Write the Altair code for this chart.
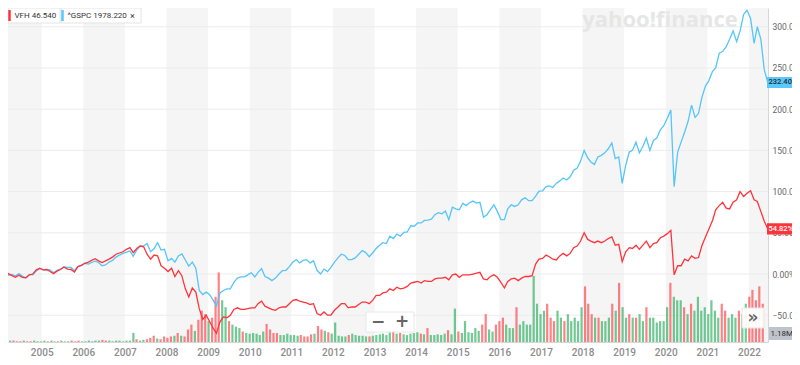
import altair as alt
import pandas as pd

# ^GSPC percent change (mid-month readings)
gspc = [
    0.0, 1.5, -1.5, -0.5, -2.5, 0.5, -2.5, -4.5, -0.5, -1.0, 4.0, 6.5,
    5.0, 5.5, 5.0, 1.5, 4.5, 6.0, 8.5, 8.0, 8.0, 4.0, 9.0, 10.5,
    13.0, 12.0, 14.0, 15.5, 14.0, 10.0, 11.0, 14.5, 16.5, 20.5, 23.0, 25.0,
    26.5, 28.0, 21.5, 29.0, 33.5, 34.0, 37.0, 27.0, 31.0, 38.0, 29.0, 30.0,
    16.0, 19.0, 14.5, 22.0, 24.5, 17.0, 9.5, 14.5, 7.0, -20.0, -25.0, -22.0,
    -25.0, -32.0, -39.0, -23.0, -20.0, -18.0, -18.0, -10.0, -5.0, -3.5, -3.5, -1.0,
    1.5, -3.5, 2.0, 6.5, -3.0, -5.0, -8.0, -5.0, 0.0, 4.0, 4.5, 9.0,
    14.5, 17.5, 13.5, 16.5, 17.5, 13.5, 16.0, 4.5, 0.0, 6.0, 3.0, 8.0,
    14.5, 19.5, 24.0, 22.5, 17.5, 17.5, 19.5, 24.0, 28.5, 26.0, 21.0, 25.5,
    31.0, 35.0, 38.0, 37.0, 46.0, 43.0, 48.5, 46.0, 50.5, 51.0, 58.5, 58.0,
    62.0, 62.0, 65.0, 65.5, 66.5, 72.0, 74.5, 73.0, 76.5, 66.0, 81.0, 79.0,
    78.0, 86.0, 83.0, 86.5, 88.5, 86.0, 87.0, 69.0, 72.0, 78.0, 84.0, 76.0,
    66.0, 66.0, 79.0, 84.0, 82.0, 84.0, 90.0, 92.5, 89.0, 89.0, 94.5, 100.5,
    101.0, 106.0, 107.0, 105.0, 110.0, 113.0, 116.5, 114.0, 118.0, 126.0, 128.5, 137.0,
    150.0, 141.0, 136.0, 133.0, 142.0, 144.0, 147.0, 152.0, 159.0, 140.0, 142.0, 110.0,
    132.0, 148.0, 150.0, 160.0, 147.0, 155.0, 165.0, 150.0, 162.0, 165.0, 175.0, 180.0,
    189.0, 199.0, 106.0, 148.0, 160.0, 172.0, 185.0, 205.0, 190.0, 195.0, 215.0, 228.0,
    235.0, 246.0, 250.0, 268.0, 270.0, 276.0, 285.0, 295.0, 282.0, 295.0, 315.0, 320.0,
    310.0, 280.0, 300.0, 285.0, 248.0, 232.4,
]

# VFH percent change (mid-month readings)
vfh = [
    0.0, 2.0, 0.5, -2.0, -4.0, -1.5, -4.0, -4.5, -1.0, 0.0, 5.0, 7.0,
    5.0, 5.5, 3.0, 0.5, 3.5, 5.5, 8.5, 6.0, 5.5, 2.5, 9.0, 10.5,
    13.0, 14.5, 16.5, 18.5, 16.0, 14.0, 16.0, 18.0, 20.5, 24.0, 25.5, 27.0,
    30.0, 32.0, 26.0, 31.0, 34.0, 33.0, 24.0, 18.0, 23.0, 22.0, 10.0, 7.0,
    3.0, 7.0, -3.0, 4.0, -2.0, -18.0, -28.0, -17.0, -22.0, -42.0, -55.0, -50.0,
    -58.0, -66.0, -72.0, -58.0, -52.0, -53.0, -50.0, -43.0, -41.0, -43.0, -43.0, -42.0,
    -41.0, -41.0, -36.0, -33.0, -39.0, -41.0, -43.0, -44.0, -41.0, -40.0, -40.0, -36.0,
    -32.0, -31.0, -33.0, -34.0, -35.0, -37.0, -36.0, -48.0, -50.0, -46.0, -50.0, -50.0,
    -44.0, -40.0, -36.0, -36.0, -41.0, -40.0, -40.0, -37.0, -34.0, -34.0, -36.0, -32.0,
    -26.0, -26.0, -23.0, -22.0, -18.0, -20.0, -16.0, -18.0, -17.0, -15.0, -11.0, -10.0,
    -9.0, -11.0, -8.0, -9.0, -9.0, -6.0, -5.0, -5.0, -4.0, -7.0, -1.0, 0.0,
    -4.0, -1.0, -1.0, -1.0, 0.0, 1.0, 2.0, -6.0, -7.0, -3.0, -1.0, -4.0,
    -10.0, -17.0, -9.0, -6.0, -5.0, -8.0, -5.0, -3.0, -3.0, -2.0, 12.0, 18.0,
    19.0, 23.0, 21.0, 18.0, 17.0, 22.0, 25.0, 22.0, 25.0, 32.0, 34.0, 40.0,
    50.0, 42.0, 40.0, 38.0, 40.0, 38.0, 40.0, 43.0, 45.0, 35.0, 36.0, 15.0,
    27.0, 32.0, 31.0, 35.0, 30.0, 35.0, 40.0, 32.0, 37.0, 38.0, 44.0, 46.0,
    49.0, 53.0, -1.0, 10.0, 10.0, 18.0, 16.0, 22.0, 19.0, 20.0, 35.0, 45.0,
    55.0, 65.0, 78.0, 83.0, 87.0, 80.0, 79.0, 87.0, 90.0, 100.0, 94.0, 98.0,
    101.0, 90.0, 88.0, 76.0, 64.0, 54.82,
]

# VFH volume (millions)
volume = [
    0.4, 0.2, 0.2, 0.1, 0.1, 0.2, 0.1, 0.1, 0.2, 0.1, 0.1, 0.2,
    0.1, 0.2, 0.1, 0.1, 0.2, 0.1, 0.1, 0.2, 0.1, 0.2, 0.1, 0.1,
    0.2, 0.1, 0.2, 0.2, 0.3, 0.2, 0.2, 0.1, 0.2, 0.2, 0.1, 0.2,
    0.2, 1.3, 0.4, 0.2, 0.3, 0.4, 0.6, 0.9, 0.5, 0.4, 0.8, 0.6,
    0.8, 0.9, 1.3, 0.9, 0.8, 1.8, 2.5, 1.6, 3.2, 4.5, 4.0, 3.0,
    3.5, 6.5, 10.0, 6.0, 5.0, 3.0, 2.5, 2.2, 2.0, 1.5, 1.3, 1.2,
    1.3, 1.2, 1.0, 1.5, 2.6, 1.8, 1.3, 1.3, 1.0, 1.0, 1.2, 1.0,
    1.0, 0.9, 1.0, 0.8, 0.8, 1.1, 1.2, 2.3, 1.8, 1.6, 1.4, 1.2,
    2.8, 0.9, 0.8, 0.8, 1.0, 1.2, 1.0, 0.9, 0.9, 0.8, 0.8, 0.9,
    1.0, 1.1, 1.2, 1.0, 1.4, 1.6, 1.2, 1.3, 1.1, 1.0, 1.2, 1.3,
    1.4, 1.2, 1.1, 2.0, 1.0, 1.0, 1.1, 1.0, 1.2, 1.7, 1.1, 4.8,
    1.5, 1.3, 3.0, 1.4, 1.3, 2.0, 1.6, 2.5, 4.0, 1.8, 1.5, 2.5,
    3.0, 3.5, 2.5, 2.0, 2.0, 5.0, 2.5, 3.0, 2.5, 2.5, 9.5, 5.5,
    4.0, 4.5, 5.5, 3.5, 3.0, 4.5, 3.5, 3.0, 4.0, 3.0, 3.5, 3.0,
    5.0, 8.0, 5.5, 4.0, 3.5, 3.5, 3.0, 3.0, 3.5, 5.5, 4.5, 8.5,
    5.0, 3.5, 4.0, 3.5, 3.5, 4.0, 3.0, 5.0, 3.5, 3.5, 2.8, 3.0,
    3.0, 5.0, 8.5, 6.5, 6.0, 6.0, 5.0, 4.0, 5.5, 4.5, 6.5, 4.5,
    5.0, 4.0, 6.0, 4.5, 3.5, 5.5, 4.5, 3.5, 4.0, 3.5, 4.5, 4.0,
    5.5, 6.5, 7.5, 6.0, 8.0, 5.5,
]

y_ticks = [-50, 0, 50, 100, 150, 200, 250, 300]
year_ticks = list(range(2005, 2023))
band_years = list(range(2004, 2023, 2))

dates = pd.date_range("2004-01-01", periods=len(gspc), freq="MS") + pd.Timedelta(days=14)
direction = ["up"] + ["up" if vfh[i] >= vfh[i - 1] else "down" for i in range(1, len(vfh))]
df = pd.DataFrame({"date": dates, "gspc": gspc, "vfh": vfh, "vol": volume, "dir": direction})

bands = pd.DataFrame({
    "start": [pd.Timestamp(f"{y}-01-01") for y in band_years],
    "end": [pd.Timestamp(f"{y + 1}-01-01") for y in band_years],
})
grid = pd.DataFrame({"v": y_ticks})

FONT = "Roboto"
xscale = alt.Scale(domain=[alt.DateTime(year=2004, month=3, date=11),
                           alt.DateTime(year=2022, month=6, date=17)])
xaxis = alt.Axis(values=[alt.DateTime(year=y, month=1, date=1) for y in year_ticks],
                 format="%Y", grid=False, ticks=False, domainColor="#d6d6d6",
                 labelColor="#8c8c8c", labelFontSize=10, labelPadding=5, labelFont=FONT,
                 labelFontWeight=500, labelOverlap=False, labelFlush=False, title=None,
                 orient="bottom")
yscale = alt.Scale(domain=[-82.5, 322.8], nice=False, zero=False)
yaxis = alt.Axis(orient="right", values=y_ticks, labelExpr="format(datum.value, '.2f') + '%'",
                 grid=False, ticks=False, domainColor="#d6d6d6", labelColor="#666666",
                 labelFontSize=8.5, labelPadding=4, labelFont=FONT, title=None)
volscale = alt.Scale(domain=[0, 48], nice=False)
pxx = alt.Scale(domain=[0, 760], range=[0, 760], nice=False, zero=False)
pxy = alt.Scale(domain=[0, 334], range=[0, 334], nice=False, zero=False)


def X(field="date:T", with_axis=False):
    if with_axis:
        return alt.X(field, scale=xscale, axis=xaxis)
    return alt.X(field, scale=xscale, axis=None)


band_layer = alt.Chart(bands).mark_rect(color="#f5f5f5", clip=True).encode(
    x=X("start:T"), x2="end:T")

grid_layer = alt.Chart(grid).mark_rule(color="#ececec", strokeWidth=1).encode(
    y=alt.Y("v:Q", scale=yscale, axis=None))

watermark = alt.Chart(pd.DataFrame({"t": ["yahoo!finance"]})).mark_text(
    font="Open Sans", fontWeight="bold", fontSize=22, color="#e6e6e6", align="center",
    baseline="alphabetic").encode(text="t:N", x=alt.value(652), y=alt.value(19))

vol_layer = alt.Chart(df).mark_bar(width=2.2, opacity=0.62, clip=True).encode(
    x=X(),
    y=alt.Y("vol:Q", scale=volscale, axis=None),
    color=alt.Color("dir:N", scale=alt.Scale(domain=["up", "down"], range=["#1aa852", "#ff333a"]),
                    legend=None),
)

blue_line = alt.Chart(df).mark_line(color="#55c5fa", strokeWidth=1.3, clip=True).encode(
    x=X(with_axis=True), y=alt.Y("gspc:Q", scale=yscale, axis=yaxis))
red_line = alt.Chart(df).mark_line(color="#ff333a", strokeWidth=1.3, clip=True).encode(
    x=X(), y=alt.Y("vfh:Q", scale=yscale, axis=None))

last = pd.DataFrame({
    "val": [gspc[-1], vfh[-1]],
    "top": [gspc[-1] + 6.8, vfh[-1] + 6.8],
    "bot": [gspc[-1] - 6.8, vfh[-1] - 6.8],
    "label": [f"{gspc[-1]:.2f}%", f"{vfh[-1]:.2f}%"],
    "series": ["gspc", "vfh"],
})
last_box = alt.Chart(last).mark_rect().encode(
    x=alt.value(759), x2=alt.value(792),
    y=alt.Y("top:Q", scale=yscale, axis=None), y2="bot:Q",
    color=alt.Color("series:N", scale=alt.Scale(domain=["gspc", "vfh"], range=["#5ac8fa", "#ff333a"]),
                    legend=None),
)
last_text = alt.Chart(last).mark_text(align="left", baseline="middle", fontSize=7.5, font=FONT,
                                      fontWeight=500).encode(
    x=alt.value(760.5),
    y=alt.Y("val:Q", scale=yscale, axis=None),
    text="label:N",
    color=alt.Color("series:N", scale=alt.Scale(domain=["gspc", "vfh"], range=["#1b2a36", "#ffffff"]),
                    legend=None),
)

# legend chips at top-left
chips = pd.DataFrame({"x": [0, 53], "x2": [52, 133]})
chip_box = alt.Chart(chips).mark_rect(fill="white", stroke="#e4e4e4", strokeWidth=1).encode(
    x=alt.X("x:Q", scale=pxx, axis=None), x2="x2:Q", y=alt.value(0), y2=alt.value(15))
chip_bars = pd.DataFrame({"x": [1.5, 54.5], "c": ["vfh", "gspc"]})
chip_bar = alt.Chart(chip_bars).mark_rect(width=2.5).encode(
    x=alt.X("x:Q", scale=pxx, axis=None),
    y=alt.value(2), y2=alt.value(13),
    color=alt.Color("c:N", scale=alt.Scale(domain=["gspc", "vfh"], range=["#5ac8fa", "#ff333a"]),
                    legend=None))
chip_texts = pd.DataFrame({"x": [6.5, 59.5, 122], "t": ["VFH 46.540", "^GSPC 1978.220", "×"],
                           "s": [8, 8, 9]})
chip_text = alt.Chart(chip_texts).mark_text(align="left", baseline="middle",
                                            font=FONT, color="#333333").encode(
    x=alt.X("x:Q", scale=pxx, axis=None),
    y=alt.value(7.5), text="t:N",
    size=alt.Size("s:Q", scale=None, legend=None))

# zoom controls & volume tag
ctrl_boxes = pd.DataFrame({"x": [358, 734], "x2": [406, 756], "y": [304, 300], "y2": [324, 320]})
ctrl_box = alt.Chart(ctrl_boxes).mark_rect(fill="white", stroke="#e8e8e8", opacity=0.95).encode(
    x=alt.X("x:Q", scale=pxx, axis=None), x2="x2:Q",
    y=alt.Y("y:Q", scale=pxy, axis=None), y2="y2:Q")
ctrl_texts = pd.DataFrame({"x": [370, 394, 745], "y": [314, 314, 310], "t": ["−", "+", "»"]})
ctrl_text = alt.Chart(ctrl_texts).mark_text(align="center", baseline="middle", fontSize=17,
                                            fontWeight="bold", font="DejaVu Sans", color="#666666").encode(
    x=alt.X("x:Q", scale=pxx, axis=None),
    y=alt.Y("y:Q", scale=pxy, axis=None),
    text="t:N")
vol_tag_box = alt.Chart(pd.DataFrame({"t": ["1.18M"]})).mark_rect(fill="#bfc4cc").encode(
    x=alt.value(761), x2=alt.value(792), y=alt.value(319), y2=alt.value(332))
vol_tag_text = alt.Chart(pd.DataFrame({"t": ["1.18M"]})).mark_text(
    align="left", baseline="middle", fontSize=8, font=FONT, color="#2b2b2b").encode(
    x=alt.value(762.5), y=alt.value(325.5), text="t:N")

chart = alt.layer(
    band_layer, grid_layer, watermark, vol_layer, blue_line, red_line,
    last_box, last_text, chip_box, chip_bar, chip_text, ctrl_box, ctrl_text,
    vol_tag_box, vol_tag_text,
).resolve_scale(y="independent", x="independent", color="independent").properties(
    width=760, height=334,
    padding={"left": 0, "top": 0, "right": 24, "bottom": 14},
    autosize=alt.AutoSizeParams(type="none"),
).configure_view(stroke="transparent")

chart.save("out.html", embed_options={"renderer": "svg", "actions": False})
